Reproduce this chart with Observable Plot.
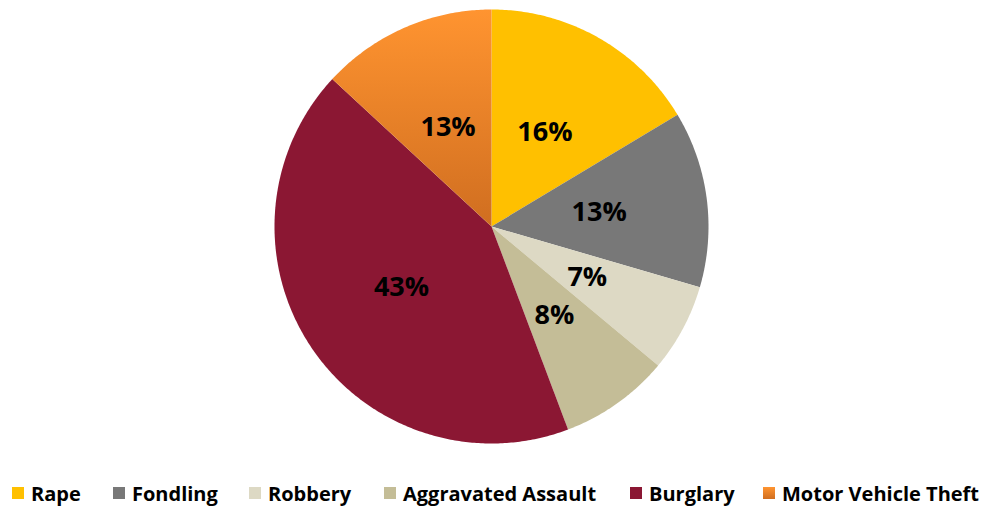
<!DOCTYPE html>
<html><head><meta charset="utf-8">
<script src="https://cdn.jsdelivr.net/npm/d3@7"></script>
<script src="https://cdn.jsdelivr.net/npm/@observablehq/plot@0.6"></script>
<style>
body{margin:0;background:#fff;font-family:"Open Sans","DejaVu Sans",sans-serif;}
#wrap{position:relative;width:986px;height:508px;}
#legend{position:absolute;left:0;top:479px;width:986px;height:28px;}
.item{position:absolute;top:0;display:flex;align-items:center;height:28px;font-weight:700;font-size:20px;color:#000;white-space:nowrap;}
.sw{width:12px;height:12px;margin-right:7px;}
</style></head>
<body><div id="wrap"><div id="chart"></div><div id="legend"></div></div>
<svg width="0" height="0" style="position:absolute"><defs>
<linearGradient id="mvtGrad" x1="0" y1="0" x2="0" y2="1"><stop offset="0" stop-color="#FF9430"/><stop offset="1" stop-color="#D06E20"/></linearGradient>
</defs></svg>
<script>
const categories = ["Rape","Fondling","Robbery","Aggravated Assault","Burglary","Motor Vehicle Theft"];
const counts = [10, 8, 4, 5, 26, 8];
const colors = ["#FFC000","#787878","#DDD9C4","#C4BD97","#8B1733","url(#mvtGrad)"];
const legendX = [12, 113, 249, 384, 630, 763];

const total = d3.sum(counts);
const pie = d3.pie().sort(null).value(d => d.value)(categories.map((c,i)=>({cat:c,value:counts[i]})));
const pts = [];
const labels = [];
for (const a of pie) {
  const n = Math.max(4, Math.ceil((a.endAngle - a.startAngle) / 0.01));
  pts.push({cat:a.data.cat, x:0, y:0});
  for (let k=0;k<=n;k++){
    const t = a.startAngle + (a.endAngle - a.startAngle)*k/n;
    pts.push({cat:a.data.cat, x:Math.sin(t), y:Math.cos(t)});
  }
  pts.push({cat:a.data.cat, x:0, y:0});
  const m = (a.startAngle + a.endAngle)/2;
  labels.push({x:0.5*Math.sin(m), y:0.5*Math.cos(m), text: Math.round(a.data.value/total*100) + "%"});
}

const chart = Plot.plot({
  width: 986, height: 460,
  marginLeft: 274, marginRight: 278, marginTop: 9, marginBottom: 17,
  x: {domain:[-1,1], axis:null},
  y: {domain:[-1,1], axis:null},
  color: {domain: categories, range: colors, type:"ordinal"},
  marks: [
    Plot.line(pts, {x:"x", y:"y", z:"cat", fill:"cat", stroke:null, curve:"linear"}),
    Plot.text(labels, {x:"x", y:"y", text:"text", fontSize:27, fontWeight:"bold", fill:"#000", fontFamily:"Open Sans, sans-serif"})
  ]
});
document.getElementById("chart").appendChild(chart);

const leg = document.getElementById("legend");
categories.forEach((c,i)=>{
  const it = document.createElement("div");
  it.className="item"; it.style.left = legendX[i]+"px";
  const sw = document.createElement("div"); sw.className="sw";
  sw.style.background = i===5 ? "linear-gradient(#FF9430,#D06E20)" : colors[i];
  const tx = document.createElement("span"); tx.textContent = c;
  it.appendChild(sw); it.appendChild(tx); leg.appendChild(it);
});
</script></body></html>
